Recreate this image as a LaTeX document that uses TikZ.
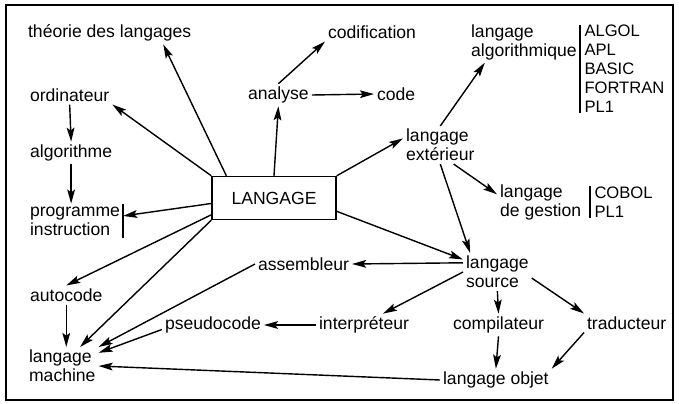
\documentclass[tikz,border=0pt]{standalone}
\usepackage{fontspec}
\setmainfont{Liberation Sans}
\usetikzlibrary{arrows.meta,positioning}

\begin{document}
\begin{tikzpicture}[x=0.025cm, y=-0.025cm, every node/.style={font=\fontsize{12.5}{13.5}\selectfont}]
\tikzset{
    term/.style={inner sep=2pt, align=left, anchor=west},
    langlist/.style={term, inner ysep=0pt, inner xsep=3pt, font=\fontsize{11.8}{13.5}\selectfont},
    mainbox/.style={draw, line width=1pt, minimum width=3.1cm, minimum height=1.075cm},
    link/.style={-{Stealth[length=10pt, width=5.5pt, inset=2pt]}, line width=1pt},
    listbar/.style={line width=1.6pt}
}
\useasboundingbox (0,0) rectangle (679,403);
\draw[line width=1.5pt] (6,5) rectangle (673,400);

% centre
\node[mainbox] (lang) at (274,198) {LANGAGE};

% left column
\node[term] (theorie) at (25,33) {théorie des langages};
\node[term] (ordi) at (27,95) {ordinateur};
\node[term] (algme) at (27,153) {algorithme};
\node[term] (prog) at (27,221) {programme\\instruction};
\node[term] (autocode) at (27,295) {autocode};
\node[term] (machine) at (26,366) {langage\\machine};

% top
\node[term] (analyse) at (245,95) {analyse};
\node[term] (codif) at (325,32) {codification};
\node[term] (code) at (374,94) {code};

% right
\node[term] (algo) at (468,42) {langage\\algorithmique};
\node[langlist] (alglist) at (580,69) {ALGOL\\APL\\BASIC\\FORTRAN\\PL1};
\node[term] (ext) at (403,145) {langage\\extérieur};
\node[term] (gestion) at (497,202) {langage\\de gestion};
\node[langlist] (gestlist) at (590,202) {COBOL\\PL1};

% bottom
\node[term] (source) at (463,272) {langage\\source};
\node[term] (assembleur) at (255,264) {assembleur};
\node[term] (pseudo) at (162,325) {pseudocode};
\node[term] (interp) at (316,325) {interpréteur};
\node[term] (compil) at (450,325) {compilateur};
\node[term] (traduc) at (584,323) {traducteur};
\node[term] (objet) at (440,380) {langage objet};

% bars
\draw[listbar] (alglist.north west) -- (alglist.south west);
\draw[listbar] (gestlist.north west) -- (gestlist.south west);
\draw[line width=1pt] (prog.north east) -- (prog.south east);

% from LANGAGE
\draw[link] (lang.155) -- (theorie.-12);
\draw[link] (lang.north west) -- (ordi.south east);
\draw[link] (lang.north) -- (analyse.south);
\draw[link] (lang.185) -- (prog.6);
\draw[link] (lang.north east) -- (ext.170);
\draw[link] (lang.-12) -- (source.160);
\draw[link] (lang.-165) -- (autocode.north);
\draw[link] (lang.south west) -- (machine.47);

% top and left
\draw[link] (analyse.north) -- (codif.south west);
\draw[link] (analyse.east) -- (code.west);
\draw[link] (ordi.south) -- (algme.north);
\draw[link] (algme.south) -- (algme.south |- prog.north);
\draw[link] (autocode.south) -- (autocode.south |- machine.north);

% langage exterieur
\draw[link] (ext.north) -- (algo.-152);
\draw[link] (ext.-55) -- (gestion.170);
\draw[link] (ext.south) -- (source.145);

% langage source
\draw[link] (source.165) -- (assembleur.east);
\draw[link] (source.west) -- (interp.31);
\draw[link] (source.south) -- (compil.north);
\draw[link] (source.-10) -- (traduc.north west);
\draw[link] (compil.south) -- (objet.north);
\draw[link] (traduc.south west) -- (objet.north east);

% towards langage machine
\draw[link] (interp.west) -- (pseudo.east);
\draw[link] (pseudo.-175) -- (machine.20);
\draw[link] (assembleur.west) -- (machine.north east);
\draw[link] (objet.west) -- (machine.east);
\end{tikzpicture}
\end{document}
